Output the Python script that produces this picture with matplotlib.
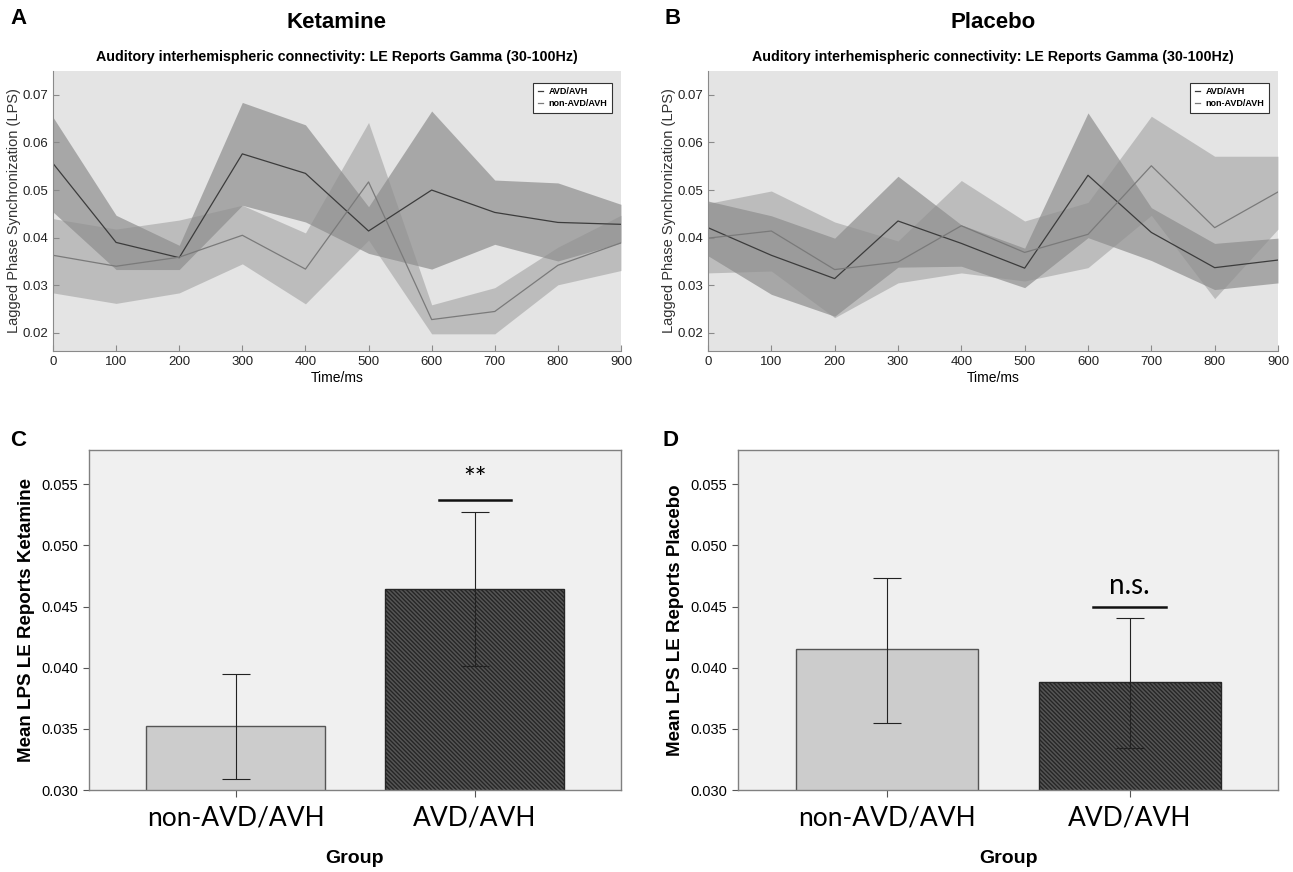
import numpy as np
import matplotlib.pyplot as plt
from matplotlib.lines import Line2D

# time axis (ms)
time_ms = [0, 100, 200, 300, 400, 500, 600, 700, 800, 900]

# Ketamine, AVD/AVH group
ket_avd_mean = [0.0556, 0.0390, 0.0358, 0.0576, 0.0535, 0.0414, 0.0500, 0.0453, 0.0432, 0.0428]
ket_avd_hi = [0.0653, 0.0447, 0.0384, 0.0684, 0.0637, 0.0465, 0.0666, 0.0521, 0.0515, 0.0470]
ket_avd_lo = [0.0454, 0.0333, 0.0333, 0.0468, 0.0433, 0.0367, 0.0334, 0.0386, 0.0351, 0.0389]
# Ketamine, non-AVD/AVH group
ket_non_mean = [0.0363, 0.0340, 0.0359, 0.0405, 0.0334, 0.0517, 0.0228, 0.0245, 0.0342, 0.0389]
ket_non_hi = [0.0440, 0.0418, 0.0437, 0.0468, 0.0410, 0.0642, 0.0259, 0.0295, 0.0380, 0.0447]
ket_non_lo = [0.0284, 0.0262, 0.0284, 0.0345, 0.0261, 0.0395, 0.0198, 0.0198, 0.0301, 0.0331]

# Placebo, AVD/AVH group
pla_avd_mean = [0.0421, 0.0363, 0.0314, 0.0435, 0.0388, 0.0336, 0.0531, 0.0411, 0.0337, 0.0353]
pla_avd_hi = [0.0477, 0.0446, 0.0399, 0.0529, 0.0427, 0.0378, 0.0662, 0.0463, 0.0388, 0.0399]
pla_avd_lo = [0.0362, 0.0281, 0.0235, 0.0338, 0.0340, 0.0295, 0.0400, 0.0352, 0.0291, 0.0305]
# Placebo, non-AVD/AVH group
pla_non_mean = [0.0399, 0.0414, 0.0333, 0.0349, 0.0425, 0.0369, 0.0407, 0.0551, 0.0421, 0.0496]
pla_non_hi = [0.0472, 0.0498, 0.0433, 0.0393, 0.0520, 0.0435, 0.0474, 0.0655, 0.0571, 0.0571]
pla_non_lo = [0.0326, 0.0330, 0.0232, 0.0305, 0.0326, 0.0309, 0.0337, 0.0447, 0.0272, 0.0418]

# bar charts: group means with error bars
groups = ["non-AVD/AVH", "AVD/AVH"]
ket_bar_mean = [0.0352, 0.0464]
ket_bar_hi = [0.0395, 0.0527]
ket_bar_lo = [0.0309, 0.0401]
pla_bar_mean = [0.0415, 0.0388]
pla_bar_hi = [0.0473, 0.0441]
pla_bar_lo = [0.0355, 0.0334]
ket_sig, ket_sig_y = "**", 0.0537
pla_sig, pla_sig_y = "n.s.", 0.0450

plt.rcParams['font.family'] = ['Liberation Sans', 'DejaVu Sans']

fig = plt.figure(figsize=(12.93, 8.72), dpi=100)
W, H = 1293, 872


def px_axes(l, t, r, b):
    return fig.add_axes([l / W, 1 - b / H, (r - l) / W, (b - t) / H])


def line_panel(ax, avd_m, avd_hi, avd_lo, non_m, non_hi, non_lo):
    ax.set_facecolor('#e4e4e4')
    ax.fill_between(time_ms, avd_lo, avd_hi, color='#6c6c6c', alpha=0.5, lw=0)
    ax.fill_between(time_ms, non_lo, non_hi, color='#8d8d8d', alpha=0.45, lw=0)
    ax.plot(time_ms, avd_m, color='#3c3c3c', lw=0.9)
    ax.plot(time_ms, non_m, color='#7a7a7a', lw=0.9)
    ax.set_xlim(0, 900)
    ax.set_ylim(0.0162, 0.075)
    ax.set_xticks(time_ms)
    ax.set_yticks([0.02, 0.03, 0.04, 0.05, 0.06, 0.07])
    ax.set_yticklabels(['0.02', '0.03', '0.04', '0.05', '0.06', '0.07'])
    for s in ['top', 'right']:
        ax.spines[s].set_visible(False)
    for s in ['left', 'bottom']:
        ax.spines[s].set_color('#8a8a8a')
    ax.tick_params(direction='in', length=4, color='#8a8a8a', labelsize=9.5, colors='#222222')
    ax.set_xlabel('Time/ms', fontsize=10, labelpad=2)
    ax.set_ylabel('Lagged Phase Synchronization (LPS)', fontsize=10.5, labelpad=1, color='#333333')
    ax.set_title('Auditory interhemispheric connectivity: LE Reports Gamma (30-100Hz)',
                 fontsize=10.3, fontweight='bold', pad=7)
    handles = [Line2D([], [], color='#3c3c3c', lw=0.9), Line2D([], [], color='#7a7a7a', lw=0.9)]
    leg = ax.legend(handles, ['AVD/AVH', 'non-AVD/AVH'], loc='upper right',
                    bbox_to_anchor=(0.992, 0.975), prop={'size': 6.5, 'weight': 'bold'},
                    handlelength=0.6, handletextpad=0.6, fancybox=False, framealpha=1,
                    borderpad=0.5, labelspacing=0.35)
    leg.get_frame().set_edgecolor('#333333')
    leg.get_frame().set_facecolor('white')
    leg.get_frame().set_linewidth(0.8)


def bar_panel(ax, means, hi, lo, sig, sig_y, ylabel):
    ax.set_facecolor('#f0f0f0')
    x = np.arange(len(groups))
    ax.bar(x[0], means[0], width=0.75, bottom=0, color='#cccccc', edgecolor='#555555', lw=1.0, zorder=2)
    ax.bar(x[1], means[1], width=0.75, bottom=0, color='#555555', edgecolor='#262626',
           hatch='\\\\\\\\\\\\\\\\', lw=1.0, zorder=2)
    yerr = [np.array(means) - np.array(lo), np.array(hi) - np.array(means)]
    ax.errorbar(x, means, yerr=yerr, fmt='none', ecolor='#222222', elinewidth=0.8,
                capsize=10, capthick=0.8, zorder=3)
    ax.plot([x[1] - 0.15, x[1] + 0.15], [sig_y, sig_y], color='#111111', lw=1.8, zorder=3)
    ax.text(x[1], sig_y + 0.0006, sig, ha='center', va='bottom', fontsize=20, family='Lato')
    ax.set_xlim(-0.615, 1.612)
    ax.set_ylim(0.030, 0.0578)
    ax.set_yticks([0.030, 0.035, 0.040, 0.045, 0.050, 0.055])
    ax.set_yticklabels(['0.030', '0.035', '0.040', '0.045', '0.050', '0.055'])
    ax.set_xticks(x)
    ax.set_xticklabels(groups, fontsize=19, family='Lato')
    for s in ax.spines.values():
        s.set_color('#808080')
        s.set_linewidth(1.0)
    ax.tick_params(axis='y', direction='out', length=4, labelsize=10.5, color='#555555')
    ax.tick_params(axis='x', direction='out', length=5, color='#555555', pad=6)
    ax.set_ylabel(ylabel, fontsize=13.5, fontweight='bold', labelpad=5)
    ax.set_xlabel('Group', fontsize=14, fontweight='bold', labelpad=14)


axA = px_axes(53, 71, 621, 351)
line_panel(axA, ket_avd_mean, ket_avd_hi, ket_avd_lo, ket_non_mean, ket_non_hi, ket_non_lo)
axB = px_axes(708, 71, 1278, 351)
line_panel(axB, pla_avd_mean, pla_avd_hi, pla_avd_lo, pla_non_mean, pla_non_hi, pla_non_lo)

axC = px_axes(89, 450, 621, 790)
bar_panel(axC, ket_bar_mean, ket_bar_hi, ket_bar_lo, ket_sig, ket_sig_y, 'Mean LPS LE Reports Ketamine')
axD = px_axes(738, 450, 1278, 790)
bar_panel(axD, pla_bar_mean, pla_bar_hi, pla_bar_lo, pla_sig, pla_sig_y, 'Mean LPS LE Reports Placebo')

fig.text(337 / W, 1 - 22 / H, 'Ketamine', ha='center', va='center', fontsize=16, fontweight='bold')
fig.text(993 / W, 1 - 22 / H, 'Placebo', ha='center', va='center', fontsize=16, fontweight='bold')
for lab, xp, yp in [('A', 10, 19), ('B', 665, 19), ('C', 10, 440), ('D', 662, 440)]:
    fig.text(xp / W, 1 - yp / H, lab, ha='left', va='center', fontsize=16, fontweight='bold')

fig.savefig('out.png', dpi=100)
